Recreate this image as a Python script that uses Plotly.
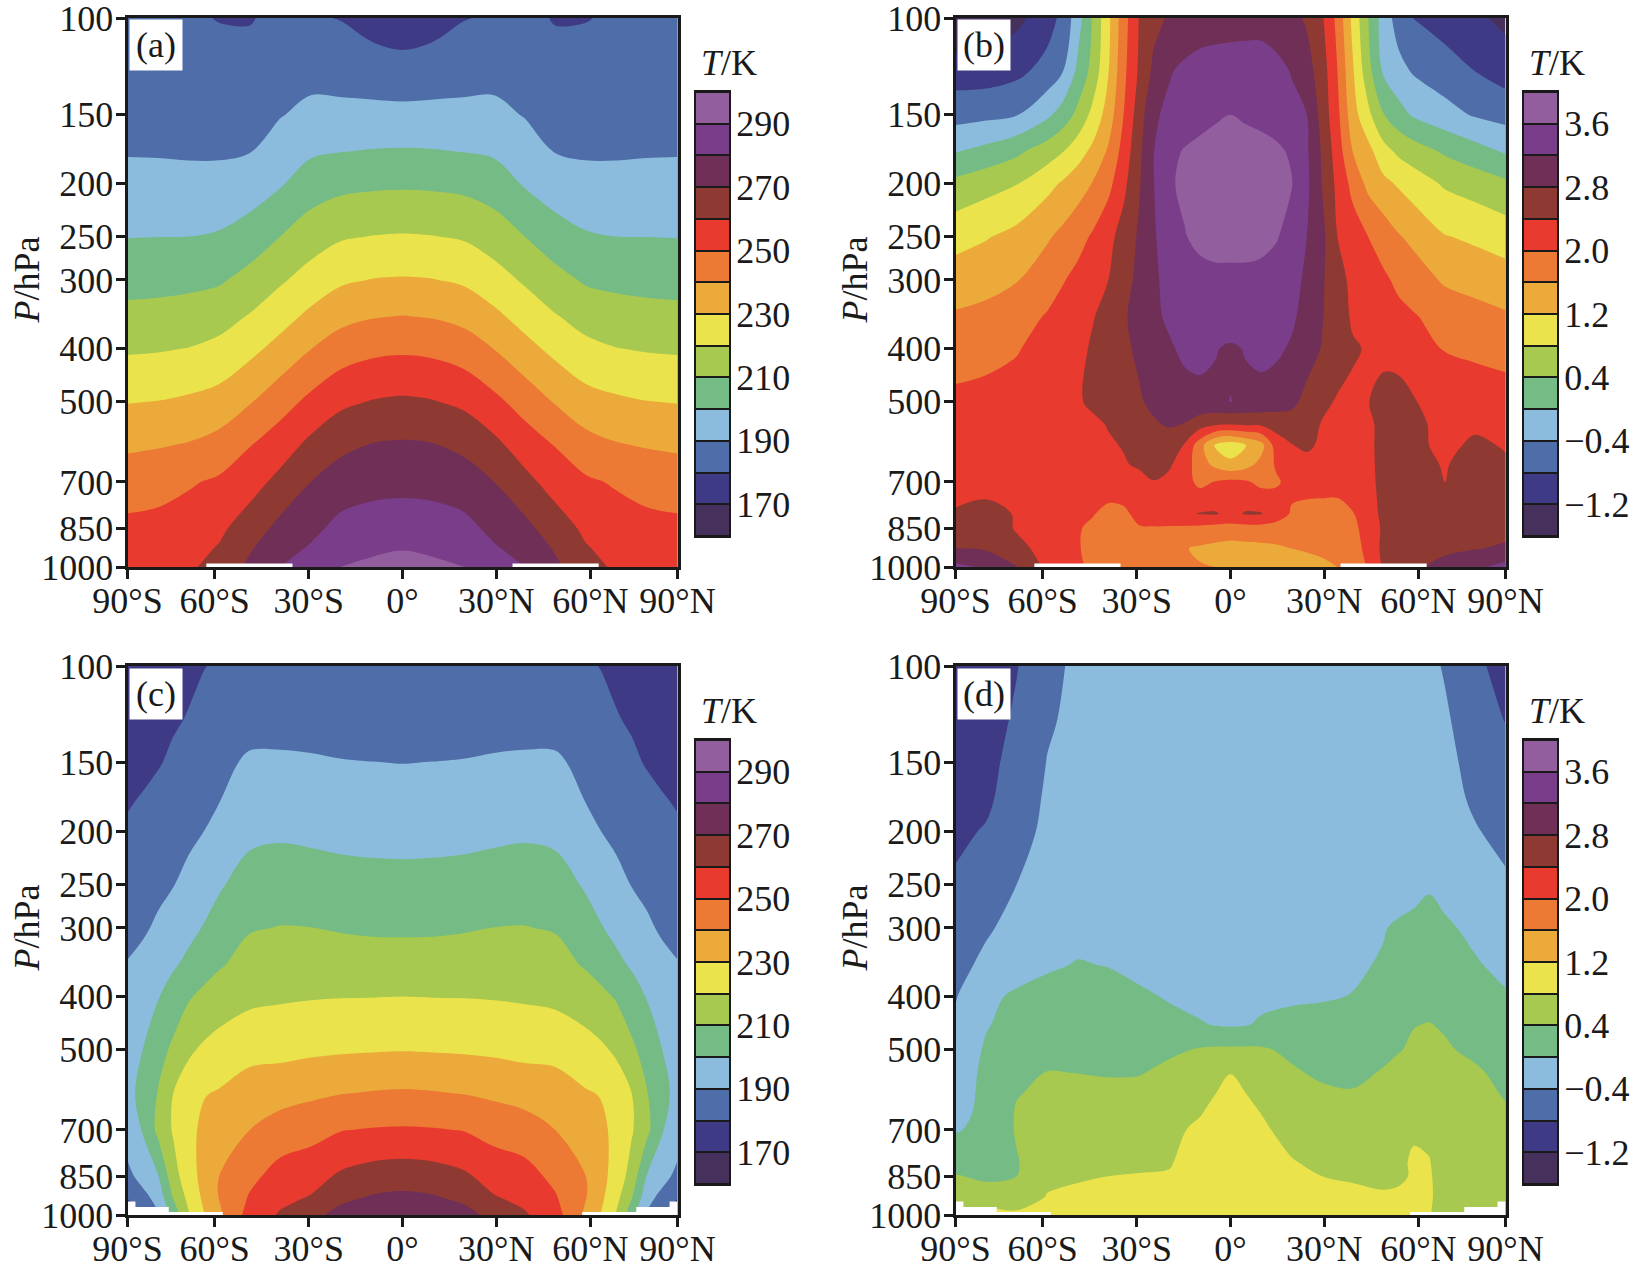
import numpy as np
import plotly.graph_objects as go

COLORS = ["#46305c", "#3f3a85", "#4f6da8", "#8bbcdd", "#74bb86", "#a7c94f", "#ebe34c",
          "#ecaa3a", "#ec7a34", "#e83a2e", "#8e3a33", "#6f2f57", "#7a3d8a", "#935e9e"]

y_ticks = [100, 150, 200, 250, 300, 400, 500, 700, 850, 1000]
x_tick_pos = [-90, -61.5, -30.7, 0, 30.7, 61.5, 90]
x_tick_text = ["90°S", "60°S", "30°S", "0°", "30°N", "60°N", "90°N"]

cb_T_ticks = [170, 190, 210, 230, 250, 270, 290]
cb_T_text = ["170", "190", "210", "230", "250", "270", "290"]
cb_D_ticks = [-1.2, -0.4, 0.4, 1.2, 2.0, 2.8, 3.6]
cb_D_text = ["−1.2", "−0.4", "0.4", "1.2", "2.0", "2.8", "3.6"]

# ---------- panel (a) values, one list per latitude ----------
lat_a = [-90, -80, -70, -60, -50, -40, -30, -20, -10, 0, 10, 20, 30, 40, 50, 60, 70, 80, 90]
p_a = [100, 125, 150, 175, 200, 250, 300, 350, 400, 500, 600, 700, 850, 925, 1000]
T_a = [
    [183, 186, 187.8, 189.4, 192.8, 199.7, 206.6, 212.8, 218.7, 229.6, 238.3, 245.8, 252, 254, 256],
    [182.5, 185.5, 187.5, 189.3, 192.7, 199.9, 206.9, 213.3, 219.2, 230.2, 239.3, 247, 252.5, 254.5, 256.5],
    [181, 184.5, 187, 189, 192.5, 200, 207.5, 214.4, 220.2, 231.6, 240.7, 249, 254.5, 256.5, 258.5],
    [179.7, 183, 186.5, 189, 192.6, 201, 208.8, 216.5, 222.4, 233.8, 243.7, 251.5, 258, 260.8, 263.5],
    [179.5, 183, 187, 189.7, 194.7, 204.4, 213.3, 220.7, 227.3, 239.3, 249.6, 256, 265, 269, 272],
    [182, 186, 189.5, 194.5, 199, 210, 218.7, 226.3, 233.2, 246, 255.3, 262.9, 272.7, 276.7, 280],
    [181, 186.9, 192.5, 198.6, 204.9, 215.3, 224, 232.3, 239.8, 252.4, 262.5, 270, 277.5, 281, 284],
    [179.6, 186, 192.7, 199.8, 207.3, 219, 228.6, 237.2, 245, 258, 267.9, 274.6, 283, 286.5, 290.2],
    [176, 185, 192.7, 200.5, 208.2, 220.2, 230.3, 239.5, 247.6, 260.5, 270.5, 276.6, 284.8, 288.3, 292],
    [174, 184, 192.6, 200.8, 208.5, 220.7, 230.8, 240.3, 248.4, 261.5, 271.2, 277, 285.7, 289.6, 293],
    [176, 185, 192.7, 200.5, 208.2, 220.2, 230.3, 239.5, 247.6, 260.5, 270.5, 276.6, 284.8, 288.3, 292],
    [179.6, 186, 192.7, 199.8, 207.3, 219, 228.6, 237.2, 245, 258, 267.9, 274.6, 283, 286.5, 290.2],
    [181, 186.9, 192.5, 198.6, 204.9, 215.3, 224, 232.3, 239.8, 252.4, 262.5, 270, 277.5, 281, 284],
    [182, 186, 189.5, 194.5, 199, 210, 218.7, 226.3, 233.2, 246, 255.3, 262.9, 272.7, 276.7, 280],
    [179.5, 183, 187, 189.7, 194.7, 204.4, 213.3, 220.7, 227.3, 239.3, 249.6, 256, 265, 269, 272],
    [179.7, 183, 186.5, 189, 192.6, 201, 208.8, 216.5, 222.4, 233.8, 243.7, 251.5, 258, 260.8, 263.5],
    [181, 184.5, 187, 189, 192.5, 200, 207.5, 214.4, 220.2, 231.6, 240.7, 249, 254.5, 256.5, 258.5],
    [182.5, 185.5, 187.5, 189.3, 192.7, 199.9, 206.9, 213.3, 219.2, 230.2, 239.3, 247, 252.5, 254.5, 256.5],
    [183, 186, 187.8, 189.4, 192.8, 199.7, 206.6, 212.8, 218.7, 229.6, 238.3, 245.8, 252, 254, 256],
]

# ---------- panel (b) values, one list per pressure level ----------
lat_b = [-90, -80, -70, -60, -55, -50, -45, -40, -35, -30, -25, -20, -15, -10, -5, 0, 5, 10, 15, 20,
         25, 30, 35, 40, 45, 50, 55, 60, 70, 80, 90]
p_b = [100, 125, 150, 175, 200, 250, 300, 350, 400, 500, 550, 600, 650, 700, 800, 850, 925, 1000]
D_b = [
    [-1.6, -1.5, -1.3, -.97, -.7, -.18, .45, 1.11, 1.83, 2.41, 2.68, 2.85, 2.93, 3.0, 3.03, 3.05, 3.05, 3.05, 2.98, 2.9, 2.75, 2.45, 1.89, 1.09, .42, -.18, -.57, -.82, -.97, -1.12, -1.3],
    [-1.0, -1.0, -.9, -.66, -.42, .09, .55, 1.18, 1.9, 2.45, 2.9, 3.17, 3.28, 3.35, 3.37, 3.38, 3.4, 3.4, 3.32, 3.18, 2.95, 2.6, 2.0, 1.25, .55, -.05, -.28, -.44, -.62, -.8, -.98],
    [-.55, -.5, -.42, -.08, .17, .5, .92, 1.38, 2.0, 2.6, 3.15, 3.28, 3.38, 3.47, 3.55, 3.6, 3.55, 3.5, 3.42, 3.3, 3.2, 2.65, 2.1, 1.37, .9, .42, .15, -.05, -.25, -.44, -.54],
    [-.02, .12, .32, .6, .78, 1.03, 1.3, 1.65, 2.15, 2.7, 3.2, 3.5, 3.63, 3.7, 3.74, 3.75, 3.74, 3.72, 3.67, 3.55, 3.25, 2.75, 2.2, 1.6, 1.33, .95, .72, .59, .35, .16, -.04],
    [.5, .65, .78, 1.08, 1.24, 1.42, 1.62, 1.88, 2.3, 2.75, 3.2, 3.55, 3.68, 3.75, 3.78, 3.8, 3.78, 3.78, 3.73, 3.62, 3.28, 2.78, 2.3, 1.88, 1.5, 1.3, 1.15, 1.0, .75, .62, .47],
    [1.06, 1.17, 1.32, 1.55, 1.7, 1.86, 2.05, 2.29, 2.55, 2.85, 3.17, 3.38, 3.58, 3.7, 3.75, 3.75, 3.75, 3.72, 3.63, 3.45, 3.2, 2.9, 2.4, 2.2, 2.0, 1.82, 1.63, 1.5, 1.22, 1.13, 1.02],
    [1.39, 1.48, 1.58, 1.83, 1.97, 2.11, 2.25, 2.4, 2.65, 2.9, 3.15, 3.3, 3.4, 3.47, 3.5, 3.5, 3.5, 3.48, 3.42, 3.33, 3.13, 2.85, 2.52, 2.32, 2.2, 2.07, 1.92, 1.8, 1.55, 1.45, 1.37],
    [1.65, 1.7, 1.85, 2.03, 2.15, 2.25, 2.38, 2.54, 2.75, 2.95, 3.12, 3.27, 3.33, 3.4, 3.42, 3.42, 3.42, 3.4, 3.33, 3.27, 3.05, 2.82, 2.58, 2.35, 2.26, 2.2, 2.1, 2.03, 1.85, 1.75, 1.65],
    [1.8, 1.87, 1.97, 2.16, 2.25, 2.3, 2.45, 2.6, 2.72, 2.87, 3.0, 3.15, 3.28, 3.3, 3.22, 3.15, 3.22, 3.28, 3.27, 3.15, 2.95, 2.78, 2.62, 2.44, 2.37, 2.32, 2.25, 2.17, 1.98, 1.92, 1.88],
    [2.1, 2.13, 2.17, 2.22, 2.27, 2.36, 2.47, 2.56, 2.66, 2.75, 2.9, 3.0, 3.05, 3.1, 3.13, 3.207, 3.13, 3.1, 3.0, 2.88, 2.7, 2.5, 2.36, 2.33, 2.39, 2.5, 2.55, 2.42, 2.27, 2.22, 2.15],
    [2.13, 2.15, 2.18, 2.22, 2.25, 2.28, 2.33, 2.42, 2.52, 2.62, 2.75, 2.85, 2.78, 2.58, 2.45, 2.41, 2.45, 2.45, 2.55, 2.65, 2.58, 2.37, 2.2, 2.2, 2.33, 2.5, 2.62, 2.48, 2.3, 2.33, 2.3],
    [2.15, 2.17, 2.2, 2.22, 2.25, 2.3, 2.33, 2.36, 2.42, 2.5, 2.6, 2.52, 2.38, 1.76, 1.15, .97, 1.18, 1.45, 2.2, 2.38, 2.5, 2.3, 2.2, 2.22, 2.33, 2.5, 2.6, 2.5, 2.3, 2.47, 2.37],
    [2.15, 2.17, 2.18, 2.2, 2.22, 2.24, 2.28, 2.32, 2.37, 2.45, 2.6, 2.45, 2.2, 1.78, 1.5, 1.3, 1.45, 1.72, 2.05, 2.2, 2.22, 2.2, 2.17, 2.22, 2.32, 2.5, 2.6, 2.55, 2.37, 2.55, 2.45],
    [2.2, 2.22, 2.2, 2.17, 2.15, 2.15, 2.17, 2.2, 2.22, 2.28, 2.38, 2.3, 2.15, 1.9, 2.02, 2.1, 2.05, 1.9, 1.95, 2.12, 2.18, 2.18, 2.15, 2.2, 2.3, 2.5, 2.6, 2.6, 2.38, 2.6, 2.55],
    [2.45, 2.55, 2.37, 2.25, 2.2, 2.13, 2.02, 1.9, 1.93, 2.1, 2.2, 2.27, 2.33, 2.42, 2.43, 2.3, 2.43, 2.42, 2.25, 1.95, 1.85, 1.83, 1.85, 1.98, 2.2, 2.5, 2.62, 2.65, 2.7, 2.72, 2.7],
    [2.55, 2.62, 2.37, 2.25, 2.15, 2.03, 1.93, 1.85, 1.88, 1.97, 1.97, 1.95, 1.93, 1.9, 1.85, 1.85, 1.85, 1.85, 1.8, 1.75, 1.72, 1.72, 1.75, 1.88, 2.2, 2.45, 2.6, 2.65, 2.7, 2.72, 2.7],
    [2.8, 2.75, 2.5, 2.28, 2.18, 2.02, 1.92, 1.85, 1.8, 1.75, 1.72, 1.68, 1.62, 1.55, 1.5, 1.45, 1.48, 1.5, 1.55, 1.6, 1.65, 1.7, 1.75, 1.85, 2.1, 2.5, 2.6, 2.65, 2.7, 2.78, 2.85],
    [3.3, 3.15, 2.82, 2.3, 2.2, 2.08, 1.9, 1.82, 1.78, 1.75, 1.7, 1.65, 1.63, 1.62, 1.6, 1.5, 1.45, 1.42, 1.4, 1.4, 1.42, 1.5, 1.6, 1.78, 2.03, 2.45, 2.6, 2.72, 2.95, 3.1, 3.35],
]

# ---------- panel (c) values, one list per pressure level ----------
lat_c = [-90, -85, -80, -75, -70, -65, -60, -50, -40, -30, -20, -10, 0, 10, 20, 30, 40, 50, 60, 65, 70, 75, 80, 85, 90]
p_c = [100, 125, 150, 175, 200, 250, 300, 350, 400, 500, 600, 700, 850, 925, 1000]
T_c = [
    [174, 175, 176, 177, 178.5, 179.8, 180.8, 182, 182, 183, 183.5, 184, 184, 184, 183.5, 183, 182, 182, 180.8, 179.8, 178.5, 177, 176, 175, 174],
    [175, 176, 178, 179.2, 180.4, 182, 183.5, 186.9, 186.5, 186.5, 186, 186, 186, 186, 186, 186.5, 186.5, 186.9, 183.5, 182, 180.4, 179.2, 178, 176, 175],
    [177, 178.2, 179.5, 181.2, 183.5, 186, 188, 191.2, 191.5, 191, 190.4, 190.1, 189.9, 190.1, 190.4, 191, 191.5, 191.2, 188, 186, 183.5, 181.2, 179.5, 178.2, 177],
    [179.3, 180.5, 182, 184, 186, 188, 189.7, 194.5, 195.3, 194.7, 194.1, 193.8, 193.6, 193.8, 194.1, 194.7, 195.3, 194.5, 189.7, 188, 186, 184, 182, 180.5, 179.3],
    [181, 182.5, 184.5, 186.3, 188, 190, 192.5, 197.8, 198.6, 198, 197.3, 197, 196.8, 197, 197.3, 198, 198.6, 197.8, 192.5, 190, 188, 186.3, 184.5, 182.5, 181],
    [184.3, 185.7, 187.7, 189.7, 192.5, 196, 199, 203.8, 204.9, 204.4, 203.5, 203, 202.9, 203, 203.5, 204.4, 204.9, 203.8, 199, 196, 192.5, 189.7, 187.7, 185.7, 184.3],
    [187, 188.7, 191.5, 194.5, 197.7, 200.5, 203.5, 209.3, 210.3, 210.1, 209.2, 208.6, 208.5, 208.6, 209.2, 210.1, 210.3, 209.3, 203.5, 200.5, 197.7, 194.5, 191.5, 188.7, 187],
    [190.5, 192.7, 196, 199, 202, 205.5, 209, 213.7, 214.9, 215.1, 214.8, 214.5, 214.4, 214.5, 214.8, 215.1, 214.9, 213.7, 209, 205.5, 202, 199, 196, 192.7, 190.5],
    [193, 195, 199.5, 204, 209, 212.5, 215, 217.7, 218.8, 219.4, 219.7, 219.8, 220, 219.8, 219.7, 219.4, 218.8, 217.7, 215, 212.5, 209, 204, 199.5, 195, 193],
    [196.5, 200, 206, 212, 218.5, 221.5, 223.5, 227, 227.2, 228.2, 228.9, 229.3, 229.6, 229.3, 228.9, 228.2, 227.2, 227, 223.5, 221.5, 218.5, 212, 206, 200, 196.5],
    [197.5, 202.5, 210.5, 220, 225, 229.5, 230.8, 234.5, 236.3, 238.2, 239.7, 240.6, 241.1, 240.6, 239.7, 238.2, 236.3, 234.5, 230.8, 229.5, 225, 220, 210.5, 202.5, 197.5],
    [196, 200.5, 212.5, 221, 227.5, 232, 236, 240, 244.4, 246.5, 249.7, 250.6, 251, 250.6, 249.7, 246.5, 244.4, 240, 236, 232, 227.5, 221, 212.5, 200.5, 196],
    [187, 194, 199.5, 216, 226, 233, 240, 247.5, 253.8, 256.3, 261.6, 264.4, 265.5, 264.4, 261.6, 256.3, 253.8, 247.5, 240, 233, 226, 216, 199.5, 194, 187],
    [181, 187, 194, 211, 223, 232, 240.5, 250.7, 257.4, 260.4, 267.4, 270.6, 271.7, 270.6, 267.4, 260.4, 257.4, 250.7, 240.5, 232, 223, 211, 194, 187, 181],
    [172, 180, 189, 203.5, 219, 229.5, 238, 254, 261, 267, 273.5, 276, 277, 276, 273.5, 267, 261, 254, 238, 229.5, 219, 203.5, 189, 180, 172],
]

# ---------- panel (d) values, one list per pressure level ----------
lat_d = [-90, -80, -70, -60, -50, -40, -30, -20, -10, -5, 0, 5, 10, 20, 30, 40, 50, 55, 60, 65, 70, 80, 90]
p_d = [100, 125, 150, 175, 200, 250, 300, 350, 400, 450, 500, 550, 600, 650, 700, 800, 850, 925, 1000]
D_d = [
    [-1.1, -1.0, -.82, -.5, -.33, -.3, -.25, -.2, -.18, -.18, -.18, -.18, -.18, -.2, -.22, -.24, -.26, -.28, -.3, -.34, -.42, -.71, -.95],
    [-1.08, -.98, -.74, -.44, -.32, -.28, -.24, -.2, -.18, -.18, -.18, -.18, -.18, -.2, -.21, -.23, -.25, -.27, -.29, -.32, -.36, -.55, -.82],
    [-1.0, -.92, -.66, -.39, -.3, -.26, -.22, -.19, -.18, -.18, -.18, -.18, -.18, -.19, -.2, -.22, -.24, -.25, -.27, -.29, -.33, -.48, -.65],
    [-.94, -.87, -.6, -.35, -.27, -.24, -.2, -.18, -.17, -.17, -.17, -.17, -.17, -.18, -.19, -.2, -.22, -.23, -.24, -.26, -.3, -.44, -.56],
    [-.88, -.77, -.52, -.33, -.26, -.23, -.19, -.18, -.17, -.17, -.17, -.17, -.17, -.18, -.18, -.19, -.2, -.2, -.21, -.22, -.28, -.38, -.48],
    [-.75, -.62, -.4, -.28, -.24, -.2, -.18, -.17, -.16, -.16, -.16, -.16, -.16, -.17, -.17, -.17, -.18, -.17, -.1, -.03, -.1, -.25, -.36],
    [-.6, -.44, -.3, -.22, -.18, -.15, -.16, -.16, -.15, -.15, -.15, -.15, -.15, -.15, -.14, -.12, -.02, .05, .08, .1, .05, -.07, -.2],
    [-.5, -.33, -.2, -.08, .03, -.02, -.1, -.12, -.13, -.14, -.14, -.14, -.13, -.11, -.08, -.05, .03, .1, .16, .2, .15, .03, -.08],
    [-.42, -.1, .07, .2, .3, .2, .06, -.03, -.12, -.14, -.15, -.14, -.08, -.05, -.03, .01, .15, .22, .27, .3, .24, .12, .03],
    [-.36, -.03, .15, .3, .37, .3, .18, .1, .03, -.02, -.04, -.02, .04, .1, .12, .15, .25, .32, .39, .41, .37, .24, .12],
    [-.3, .05, .2, .28, .32, .3, .3, .33, .43, .46, .46, .46, .45, .32, .24, .24, .3, .38, .45, .47, .44, .33, .2],
    [-.2, .08, .25, .41, .395, .37, .37, .5, .65, .72, .78, .72, .65, .45, .33, .3, .43, .5, .56, .6, .58, .45, .3],
    [-.15, .08, .38, .47, .5, .5, .55, .58, .7, .79, 1.0, .8, .68, .5, .47, .43, .5, .55, .6, .65, .65, .55, .36],
    [-.1, .08, .43, .52, .55, .57, .6, .65, .77, .9, 1.05, .95, .79, .6, .55, .5, .55, .6, .65, .68, .65, .58, .45],
    [-.03, .1, .43, .55, .58, .6, .63, .7, .88, 1.0, 1.1, 1.0, .86, .68, .6, .55, .58, .62, .72, .7, .62, .56, .48],
    [.28, .28, .38, .6, .66, .7, .73, .78, .92, .98, 1.05, 1.0, .95, .82, .72, .65, .62, .68, .88, .82, .6, .58, .55],
    [.42, .35, .4, .7, .75, .8, .82, .82, .95, 1.0, 1.05, 1.0, .95, .88, .8, .76, .7, .72, .85, .85, .6, .6, .58],
    [.6, .53, .5, .82, .9, .92, .93, .95, 1.0, 1.02, 1.05, 1.02, 1.0, .95, .92, .88, .85, .88, .9, .86, .62, .65, .65],
    [.65, .95, .9, .95, 1.0, 1.0, 1.0, 1.0, 1.0, 1.0, 1.08, 1.0, 1.0, 1.0, 1.0, 1.0, 1.0, 1.0, .95, .82, .65, .9, .7],
]

# ---------- surface masks (blank regions near 1000 hPa) ----------
strip_lat_s = [-64.2, -36, -36, -64.2]
strip_lat_n = [36, 64.2, 64.2, 36]
strip_p = [985, 985, 1000, 1000]
step_lat_s = [-90, -87.4, -87.4, -76.5, -76.5, -58.8, -58.8, -90]
step_lat_n = [90, 87.4, 87.4, 76.5, 76.5, 58.8, 58.8, 90]
step_p = [945, 945, 967, 967, 987, 987, 1000, 1000]

W, H = 1650, 1273
FONT = "Liberation Serif"
FS = 36
INK = "#1a1a1a"


def fx(px):
    return px / W


def fy(px):
    return 1 - px / H


color_stops = [[i / 13, c] for i, c in enumerate(COLORS)]

panels = [
    dict(name="(a)", lat=lat_a, p=p_a, z=np.array(T_a).T, levels=(170, 290, 10), x0=127.5, y0=18, y1=567,
         masks=[(strip_lat_s, strip_p), (strip_lat_n, strip_p)], ticks=cb_T_ticks, text=cb_T_text),
    dict(name="(b)", lat=lat_b, p=p_b, z=np.array(D_b), levels=(-1.2, 3.6, 0.4), x0=955.5, y0=18, y1=567,
         masks=[(strip_lat_s, strip_p), (strip_lat_n, strip_p)], ticks=cb_D_ticks, text=cb_D_text),
    dict(name="(c)", lat=lat_c, p=p_c, z=np.array(T_c), levels=(170, 290, 10), x0=127.5, y0=666, y1=1215,
         masks=[(step_lat_s, step_p), (step_lat_n, step_p)], ticks=cb_T_ticks, text=cb_T_text),
    dict(name="(d)", lat=lat_d, p=p_d, z=np.array(D_d), levels=(-1.2, 3.6, 0.4), x0=955.5, y0=666, y1=1215,
         masks=[(step_lat_s, step_p), (step_lat_n, step_p)], ticks=cb_D_ticks, text=cb_D_text),
]

fig = go.Figure()
layout = dict(
    width=W, height=H, margin=dict(l=0, r=0, t=0, b=0, autoexpand=False), paper_bgcolor="white",
    plot_bgcolor="white", showlegend=False, font=dict(family=FONT, size=FS, color=INK), hovermode=False,
)
annotations = []

for k, P in enumerate(panels):
    n = 2 * k + 1
    xa, ya = ("x" if n == 1 else f"x{n}"), ("y" if n == 1 else f"y{n}")
    xb, yb = f"x{n + 1}", f"y{n + 1}"
    start, end, size = P["levels"]
    fig.add_trace(go.Contour(
        x=P["lat"], y=P["p"], z=P["z"], xaxis=xa, yaxis=ya, autocontour=False,
        contours=dict(start=start, end=end, size=size, coloring="fill", showlines=False),
        line=dict(width=0, smoothing=1.0), colorscale=color_stops, showscale=False, hoverinfo="skip",
    ))
    for mlat, mp in P["masks"]:
        fig.add_trace(go.Scatter(x=mlat, y=mp, xaxis=xa, yaxis=ya, mode="lines", fill="toself",
                                 fillcolor="white", line=dict(width=0, color="white"), hoverinfo="skip"))
    x0, y0, y1 = P["x0"], P["y0"], P["y1"]
    x1 = x0 + 550
    layout["xaxis" if n == 1 else f"xaxis{n}"] = dict(
        domain=[fx(x0), fx(x1)], anchor=ya, range=[-90, 90], tickmode="array", tickvals=x_tick_pos,
        ticktext=x_tick_text, ticks="outside", ticklen=9, tickwidth=3, tickcolor=INK, showgrid=False,
        zeroline=False, showline=True, linecolor=INK, linewidth=3, mirror=True, automargin=False,
        ticklabeloverflow="allow", ticklabelstandoff=-9,
        tickfont=dict(family=FONT, size=FS, color=INK),
    )
    layout["yaxis" if n == 1 else f"yaxis{n}"] = dict(
        domain=[fy(y1), fy(y0)], anchor=xa, type="log", range=[3, 2], tickmode="array", tickvals=y_ticks,
        ticktext=[str(v) for v in y_ticks], ticks="outside", ticklen=9, tickwidth=3, tickcolor=INK,
        showgrid=False, zeroline=False, showline=True, linecolor=INK, linewidth=3, mirror=True, automargin=False,
        ticklabeloverflow="allow", ticklabelstandoff=-5,
        tickfont=dict(family=FONT, size=FS, color=INK),
    )
    # colour key: one cell per contour interval, over a dark backing that shows through the gaps
    centers = [start + (i - 0.5) * size for i in range(14)]
    cbx0, cby0 = x0 + 568.5, y0 + 74
    cby1 = cby0 + 444
    fig.add_trace(go.Heatmap(
        x=[0], y=centers, z=[[1] for c in centers], xaxis=xb, yaxis=yb, zmin=0, zmax=1,
        colorscale=[[0, INK], [1, INK]], showscale=False, hoverinfo="skip",
    ))
    fig.add_trace(go.Heatmap(
        x=[0], y=centers, z=[[c] for c in centers], xaxis=xb, yaxis=yb, zmin=centers[0], zmax=centers[-1],
        colorscale=color_stops, showscale=False, ygap=2, hoverinfo="skip",
    ))
    layout[f"xaxis{n + 1}"] = dict(
        domain=[fx(cbx0), fx(cbx0 + 33)], anchor=yb, range=[-0.5, 0.5], showticklabels=False, ticks="",
        showgrid=False, zeroline=False, showline=True, linecolor=INK, linewidth=2, mirror=True, automargin=False,
    )
    layout[f"yaxis{n + 1}"] = dict(
        domain=[fy(cby1), fy(cby0)], anchor=xb, side="right", range=[start - size, end + size],
        tickmode="array", tickvals=P["ticks"], ticktext=P["text"], ticks="", ticklabeloverflow="allow",
        ticklabelstandoff=-2, showgrid=False, zeroline=False, showline=True, linecolor=INK, linewidth=2,
        mirror=True, automargin=False, tickfont=dict(family=FONT, size=FS, color=INK),
    )
    # panel letter
    annotations.append(dict(
        text=P["name"], xref="paper", yref="paper", x=fx(x0 + 1.5), y=fy(y0 + 1.5), xanchor="left", yanchor="top",
        showarrow=False, bgcolor="white", width=52, height=50, align="center", valign="middle",
        font=dict(family=FONT, size=FS, color=INK), borderpad=0,
    ))
    # colour key title
    annotations.append(dict(
        text="<i>T</i>/K", xref="paper", yref="paper", x=fx(x0 + 601), y=fy(y0 + 45), xanchor="center",
        yanchor="middle", showarrow=False, font=dict(family=FONT, size=FS, color=INK),
    ))
    # pressure-axis title
    annotations.append(dict(
        text="<i>P</i>/hPa", xref="paper", yref="paper", x=fx(x0 - 101), y=fy(y0 + 262), xanchor="center",
        yanchor="middle", textangle=-90, showarrow=False, font=dict(family=FONT, size=FS, color=INK),
    ))

layout["annotations"] = annotations
fig.update_layout(**layout)
fig.write_html("out.html", config=dict(displayModeBar=False),
               post_script="document.body.style.margin='0';window.dispatchEvent(new Event('resize'));")
